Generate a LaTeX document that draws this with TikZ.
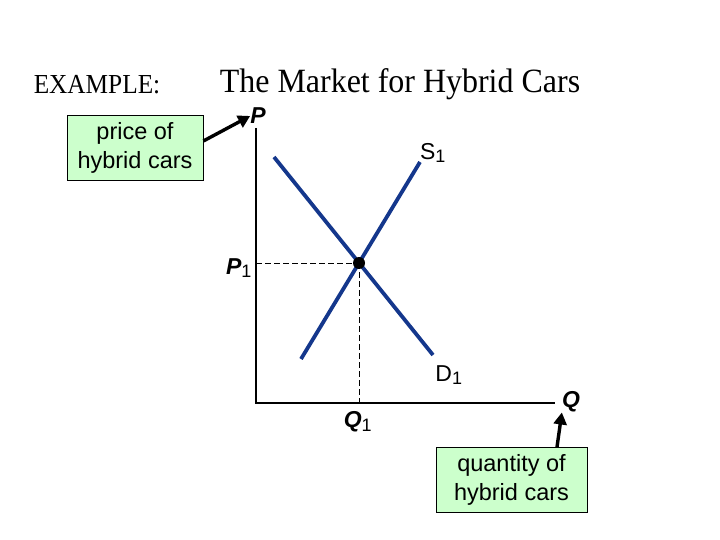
\documentclass[tikz,border=0pt]{standalone}
\usepackage{fontspec}
\setmainfont{Liberation Serif}
\setsansfont{Liberation Sans}
\usetikzlibrary{arrows.meta}
\definecolor{curveblue}{RGB}{20,55,140}
\definecolor{boxgreen}{RGB}{204,255,204}
\newcommand{\subone}{\textsubscript{\mdseries\upshape\fontsize{18}{18}\selectfont 1}}
\tikzset{
  curve/.style={curveblue, line width=3.8pt},
  axis/.style={black, line width=2.4pt},
  guide/.style={black, line width=0.8pt, dash pattern=on 6pt off 3pt},
  callout/.style={draw=black, fill=boxgreen, line width=0.8pt, align=center,
    font=\sffamily\fontsize{23.5}{29}\selectfont, minimum width=136pt, minimum height=65pt, inner sep=0pt},
  pointer/.style={black, line width=3.4pt, -{Triangle[length=12pt,width=13pt]}},
  lbl/.style={font=\sffamily\fontsize{23}{26}\selectfont, inner sep=0pt},
  ilbl/.style={font=\sffamily\bfseries\itshape\fontsize{23}{26}\selectfont, inner sep=0pt}
}
\begin{document}
\begin{tikzpicture}[x=1pt,y=-1pt]
\useasboundingbox (0,0) rectangle (720,540);
% titles
\node[font=\fontsize{27.5}{30}\selectfont, inner sep=0pt] (ex) at (97,85) {\scalebox{0.92}[1]{EXAMPLE:}};
\node[font=\fontsize{34}{36}\selectfont, inner sep=0pt] (title) at (400,84) {\scalebox{0.94}[1]{The Market for Hybrid Cars}};
% axes
\coordinate (ytop) at (256,128);
\coordinate (orig) at (256,403);
\coordinate (xend) at (555,403);
\draw[axis] (ytop) -- (orig) -- (xend);
% curves
\coordinate (d1) at (274,157);
\coordinate (d2) at (433,355);
\coordinate (s1) at (301,359);
\coordinate (s2) at (420,162);
\draw[curve] (d1) -- (d2);
\draw[curve] (s1) -- (s2);
% equilibrium
\coordinate (eq) at (359,263);
\coordinate (peq) at (256,263);
\coordinate (qeq) at (359,403);
\draw[guide] (peq) -- (eq);
\draw[guide] (eq) -- (qeq);
\fill (eq) circle (6pt);
% labels
\node[ilbl] (P) at (258,116) {P};
\node[ilbl] (Q) at (571,402) {Q};
\node[ilbl] (P1) at (239,268) {P\subone};
\node[ilbl] (Q1) at (358,422) {Q\subone};
\node[lbl] (S1) at (433,153) {S\subone};
\node[lbl] (D1) at (449,375) {D\subone};
% callouts
\node[callout] (pbox) at (135,147.5) {price of\\hybrid cars};
\node[callout, minimum width=151pt] (qbox) at (511.5,479.5) {quantity of\\hybrid cars};
\draw[pointer] (pbox.east |- 0,141) -- (P.west);
\draw[pointer] (557,447) -- (Q.south west);
\end{tikzpicture}
\end{document}
